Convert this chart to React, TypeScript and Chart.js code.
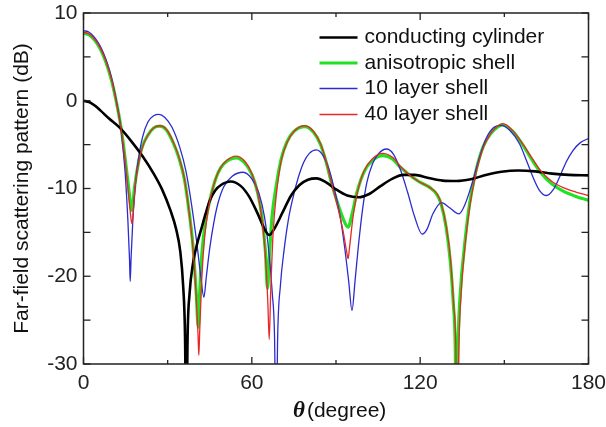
import React, { useEffect, useRef } from 'react';
import { Chart, registerables } from 'chart.js';

Chart.register(...registerables);

// ---------- data ----------
const seriesNames = ['conducting cylinder', 'anisotropic shell', '10 layer shell', '40 layer shell'];

const blackTheta = [0, 2, 4, 6, 9, 13, 17, 21, 25, 28, 31, 33, 34.5, 35.5, 36.2, 36.65, 37.1, 37.8, 39, 40.5, 42, 43.5, 45, 47, 49, 52.5, 56, 59, 62, 64.5, 66.2, 68, 71, 74, 77, 80, 83, 86.5, 90, 94, 98, 102, 106, 110, 114, 118, 123, 128, 133, 138, 143, 149, 155, 161, 167, 173, 180];
const blackDb = [0, -0.15, -0.55, -1.1, -2.0, -3.1, -4.6, -6.3, -8.3, -10.1, -12.5, -14.6, -17.2, -21, -27, -40, -27, -22, -18.6, -16.3, -14.6, -12.9, -11.4, -10.2, -9.6, -9.2, -9.7, -10.9, -12.8, -14.6, -15.3, -14.6, -12.7, -10.8, -9.6, -9.0, -8.85, -9.3, -10.1, -10.8, -11.0, -10.6, -9.7, -8.9, -8.45, -8.45, -8.8, -9.1, -9.15, -8.95, -8.5, -8.1, -7.95, -8.05, -8.3, -8.45, -8.5];

const greenTheta = [0, 2, 4, 6, 8, 10, 12, 13.5, 15, 16.3, 17.0, 17.2, 17.5, 18.3, 19.5, 21, 23, 25, 27.2, 29.5, 32, 34, 36, 37.5, 39, 40.2, 40.9, 41.4, 42.3, 43.5, 45, 47, 49, 51.5, 54.5, 57.5, 60, 62, 63.5, 64.8, 65.6, 66.2, 67.2, 68.8, 70.5, 72.5, 75, 78.9, 82, 84.5, 86.5, 88.5, 90.5, 92.5, 94.3, 95.8, 97.5, 100, 103, 106.8, 110, 113, 116, 119.5, 123.5, 126, 127.5, 129.3, 130.8, 131.8, 132.5, 132.95, 133.5, 134.5, 135.5, 136.5, 137.6, 139, 140.5, 142.5, 145, 147.5, 149.5, 153, 156.5, 160, 163, 167, 171, 175.5, 180];
const greenDb = [7.7, 7.5, 6.9, 5.9, 4.4, 2.3, -0.6, -3.3, -7.0, -10.5, -12.3, -12.5, -12.0, -9.6, -7.2, -5.2, -3.9, -3.1, -2.9, -3.3, -4.8, -6.5, -9.0, -12.3, -16.5, -22, -25.8, -22, -17, -13.8, -11.4, -9.0, -7.6, -6.8, -6.5, -7.1, -8.4, -10.4, -13.0, -17, -21.4, -18, -13.2, -9.5, -6.6, -4.7, -3.5, -2.95, -3.6, -5.0, -7.0, -9.5, -11.6, -13.4, -14.4, -12.8, -10.4, -8.1, -6.8, -6.25, -6.6, -7.6, -8.4, -9.2, -9.9, -10.7, -11.8, -14.5, -18.5, -23, -28, -40, -28, -21, -17.5, -14.5, -11.8, -9.3, -7.2, -5.2, -3.8, -3.0, -2.75, -3.5, -5.0, -6.8, -8.2, -9.5, -10.3, -10.9, -11.35];

const blueTheta = [0, 2, 4, 6, 8, 10, 12, 13.5, 14.8, 15.8, 16.4, 16.65, 16.95, 17.6, 18.5, 19.5, 21, 23, 25, 26.9, 29, 31.5, 34.4, 36.5, 38.5, 40.3, 41.8, 42.9, 43.8, 45, 46.5, 48, 50, 53, 56.9, 60, 62.5, 64.5, 66, 67.3, 68.1, 68.65, 69.2, 70.2, 71.5, 73, 74.7, 76.5, 78.5, 80.5, 83, 85.5, 87.5, 89.5, 91.5, 93, 94.5, 95.7, 96.8, 98, 99.5, 101, 103, 105, 108, 110.5, 113, 115.5, 118, 120.7, 122.5, 124.5, 127.6, 130.5, 133.8, 136, 138.8, 141, 143.5, 146, 148.9, 152, 155.4, 158, 160.2, 162.5, 165, 167.5, 169.7, 172, 174.4, 177, 180];
const blueDb = [8.0, 7.8, 7.2, 6.2, 4.7, 2.6, -0.5, -3.6, -8, -13.5, -18, -20.6, -18, -13.5, -9.5, -6.8, -4.2, -2.4, -1.7, -1.55, -1.9, -3.0, -5.4, -8.0, -11.8, -16, -20, -22.4, -20, -16.8, -13.8, -11.6, -9.8, -8.6, -8.15, -8.9, -10.5, -13.2, -17, -22, -27, -40, -27, -21, -17, -13.6, -11, -8.8, -7.0, -6.0, -5.6, -6.3, -7.8, -10.2, -13.2, -16.5, -20.5, -23.9, -20.5, -16.5, -12.3, -9.3, -7.2, -6.1, -5.5, -6.1, -7.9, -10.4, -13.2, -15.2, -14.6, -12.9, -11.6, -12.2, -12.9, -11.8, -9.1, -6.6, -4.3, -3.1, -2.8, -3.4, -4.9, -6.9, -8.7, -10.2, -10.8, -10.1, -8.7, -7.0, -5.7, -4.8, -4.3];

const redTheta = [0, 2, 4, 6, 8, 10, 12, 13.5, 15, 16.3, 17.0, 17.3, 17.6, 18.3, 19.5, 21, 23, 25, 27.3, 29.5, 32, 34, 36, 37.5, 39, 40.2, 40.8, 41.1, 41.45, 42.2, 43.2, 44.5, 46.5, 48.5, 51, 54.3, 57.5, 60, 62, 63.5, 64.8, 65.7, 66.2, 66.7, 67.6, 68.8, 70.5, 72.5, 75, 78.8, 82, 84.5, 86.5, 88.5, 90.5, 92.5, 93.8, 94.3, 94.8, 96, 97.5, 100, 103, 106.8, 110, 113, 116, 119.5, 123.5, 126, 127.5, 129.3, 130.8, 131.9, 132.7, 133.2, 133.8, 134.8, 135.7, 136.7, 137.8, 139.2, 140.7, 142.7, 145, 147.5, 149.5, 153, 156.5, 160, 163, 167, 171, 175.5, 180];
const redDb = [7.8, 7.6, 7.0, 6.0, 4.5, 2.4, -0.6, -3.4, -7.3, -11.5, -13.6, -14.0, -13.2, -10, -7.4, -5.3, -3.9, -3.1, -2.85, -3.25, -4.7, -6.4, -8.9, -12.3, -16.8, -22.5, -26.5, -29, -26, -20, -15.5, -12.3, -9.5, -7.8, -6.8, -6.3, -6.9, -8.3, -10.4, -13.2, -17.5, -23, -27.2, -22, -15, -10.5, -6.8, -4.8, -3.5, -2.85, -3.5, -4.9, -6.9, -9.5, -12.0, -14.8, -17.2, -18.0, -16.8, -13.4, -10.6, -8.0, -6.6, -6.0, -6.4, -7.5, -8.4, -9.2, -9.9, -10.6, -11.7, -14.3, -18, -23, -28, -40, -28, -21, -17.5, -14.5, -11.8, -9.3, -7.2, -5.2, -3.8, -2.9, -2.6, -3.4, -4.9, -6.6, -8.0, -9.2, -9.9, -10.4, -10.8];

const xMajorTicks = [0, 60, 120, 180];
const xMinorTicks = [30, 90, 150];
const yMajorTicks = [-30, -20, -10, 0, 10];
const yMinorTicks = [-25, -15, -5, 5];

const seriesColors = ['#000000', '#22e022', '#2b2bd0', '#e82828'];
const seriesWidths = [2.6, 3.2, 1.3, 1.3];

const toPoints = (t: number[], v: number[]) => t.map((x, i) => ({ x, y: v[i] }));

const SANS = "'Liberation Sans', Arial, sans-serif";

const decorPlugin = {
  id: 'decor',
  afterDatasetsDraw(chart: any) {
    const { ctx, chartArea, scales } = chart;
    const { left, right, top, bottom } = chartArea;
    const x = scales.x;
    const y = scales.y;
    ctx.save();
    ctx.strokeStyle = '#222';
    ctx.lineWidth = 1.5;
    ctx.strokeRect(left, top, right - left, bottom - top);
    const seg = (x1: number, y1: number, x2: number, y2: number) => {
      ctx.beginPath();
      ctx.moveTo(x1, y1);
      ctx.lineTo(x2, y2);
      ctx.stroke();
    };
    ctx.lineWidth = 1.3;
    const tick = (vals: number[], len: number) => {
      vals.forEach((v) => {
        const px = x.getPixelForValue(v);
        seg(px, bottom, px, bottom - len);
        seg(px, top, px, top + len);
      });
    };
    tick(xMajorTicks, 7);
    tick(xMinorTicks, 4);
    const ytick = (vals: number[], len: number) => {
      vals.forEach((v) => {
        const py = y.getPixelForValue(v);
        seg(left, py, left + len, py);
        seg(right, py, right - len, py);
      });
    };
    ytick(yMajorTicks, 7);
    ytick(yMinorTicks, 7);

    // legend
    const legX = right - 269;
    const legY = [top + 24.5, top + 50, top + 75.5, top + 101.5];
    ctx.textBaseline = 'middle';
    ctx.textAlign = 'left';
    ctx.font = `21px ${SANS}`;
    seriesNames.forEach((name, i) => {
      ctx.strokeStyle = seriesColors[i];
      ctx.lineWidth = seriesWidths[i];
      seg(legX, legY[i], legX + 38, legY[i]);
      ctx.fillStyle = '#111';
      ctx.fillText(name, legX + 45, legY[i]);
    });

    // x-axis title
    const cx = (left + right) / 2;
    ctx.textBaseline = 'alphabetic';
    ctx.fillStyle = '#111';
    ctx.font = `bold italic 23px 'Liberation Serif', 'Times New Roman', serif`;
    const startX = cx - 43;
    ctx.fillText('θ', startX, 417);
    const w1 = ctx.measureText('θ').width;
    ctx.font = `21px ${SANS}`;
    ctx.fillText('(degree)', startX + w1 + 2, 417);
    ctx.restore();
  },
};

export default function App() {
  const canvasRef = useRef<HTMLCanvasElement | null>(null);

  useEffect(() => {
    if (!canvasRef.current) return;
    const thetas = [blackTheta, greenTheta, blueTheta, redTheta];
    const dbs = [blackDb, greenDb, blueDb, redDb];
    const orders = [2, 4, 3, 1];
    const chart = new Chart(canvasRef.current, {
      type: 'line',
      data: {
        datasets: seriesNames.map((name, i) => ({
          label: name,
          data: toPoints(thetas[i], dbs[i]),
          borderColor: seriesColors[i],
          borderWidth: seriesWidths[i],
          pointRadius: 0,
          fill: false,
          cubicInterpolationMode: 'monotone' as const,
          order: orders[i],
        })),
      },
      options: {
        responsive: false,
        animation: false,
        devicePixelRatio: 1,
        layout: { padding: { top: 13, left: 0, right: 0, bottom: 0 } },
        plugins: {
          legend: { display: false },
          tooltip: { enabled: false },
        },
        scales: {
          x: {
            type: 'linear',
            min: 0,
            max: 180,
            grid: { display: false, drawTicks: false },
            border: { display: false },
            ticks: {
              stepSize: 60,
              padding: 7,
              maxRotation: 0,
              autoSkip: false,
              color: '#222',
              font: { family: SANS, size: 21 },
            },
            afterFit: (s: any) => {
              s.height = 63;
              s.paddingRight = 17.5;
              s.paddingLeft = 0;
            },
          },
          y: {
            type: 'linear',
            min: -30,
            max: 10,
            grid: { display: false, drawTicks: false },
            border: { display: false },
            ticks: {
              stepSize: 10,
              padding: 6,
              color: '#222',
              font: { family: SANS, size: 21 },
            },
            title: {
              display: true,
              text: 'Far-field scattering pattern (dB)',
              color: '#111',
              font: { family: SANS, size: 21 },
              padding: { top: 10, bottom: 0 },
            },
            afterFit: (s: any) => {
              s.width = 83.5;
              s.paddingTop = 0;
              s.paddingBottom = 0;
            },
          },
        },
      },
      plugins: [decorPlugin],
    });
    return () => chart.destroy();
  }, []);

  return (
    <div style={{ position: 'absolute', left: 0, top: 0, width: 606, height: 427, background: '#fff' }}>
      <canvas ref={canvasRef} width={606} height={427} />
    </div>
  );
}
